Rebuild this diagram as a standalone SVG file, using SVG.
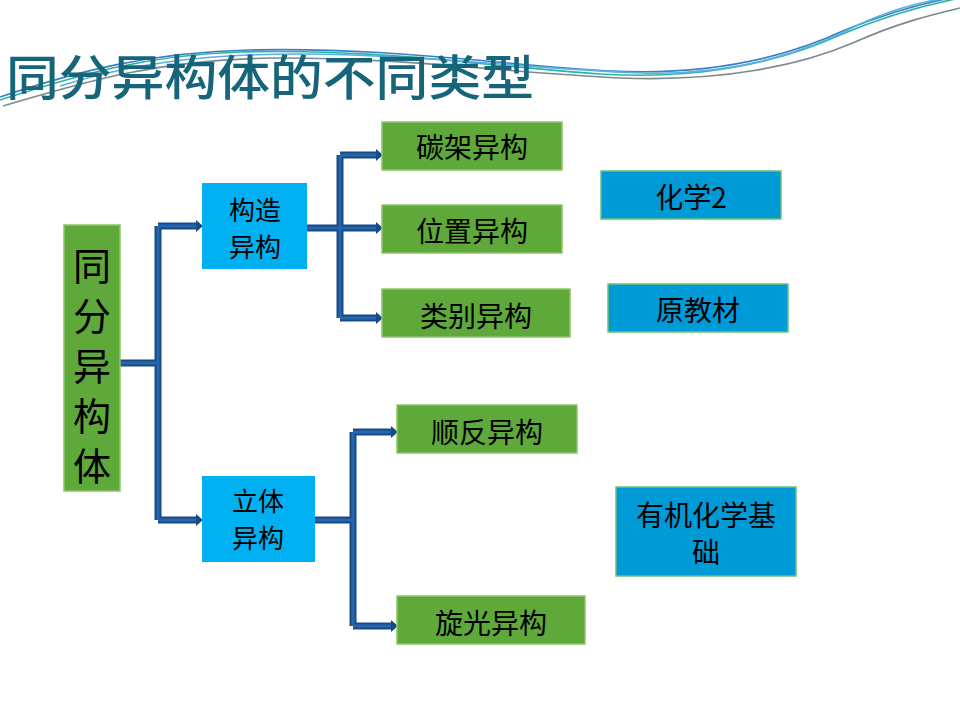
<svg xmlns="http://www.w3.org/2000/svg" width="960" height="720" viewBox="0 0 960 720">
<defs>
<style>
.t{font-family:"Noto Sans CJK SC","Liberation Sans",sans-serif;fill:#000;text-anchor:middle}
.g{fill:#5fa83a;stroke:#8cc66a;stroke-width:1.5}
.b{fill:#00b0f0}
.d{fill:#009ad6;stroke:#6cc07a;stroke-width:1.5}
.c{fill:none;stroke:#184a86;stroke-width:7;stroke-linejoin:miter}
.ci{fill:none;stroke:#2566b0;stroke-width:3;stroke-linejoin:miter}
.w{fill:none;stroke-width:1.6}
</style>
</defs>
<rect width="960" height="720" fill="#fff"/>
<g id="waves">
<path class="w" stroke="#2bb5a0" d="M0,100 C70,78 140,55 240,52 C380,48 480,66 600,74 C700,80 780,62 840,35 C880,18 920,6 960,-2"/>
<path class="w" stroke="#3a7fc8" d="M0,97 C75,72 150,52 250,50 C390,47 490,64 610,71 C710,76 785,58 845,30 C885,14 920,4 950,-2"/>
<path class="w" stroke="#7a8a90" d="M3,106 C90,80 160,60 270,58 C400,57 500,72 620,78 C720,82 800,66 855,42 C900,22 935,14 960,8"/>
<path class="w" stroke="#5ab0e0" d="M60,86 C130,64 200,54 300,54 C430,55 520,68 640,73 C740,76 810,50 860,24 C900,6 930,0 960,-4"/>
</g>
<g id="title">
<text x="6" y="95" font-family="'Noto Sans CJK SC',sans-serif" font-size="48" font-weight="500" fill="#17657a" textLength="528" lengthAdjust="spacingAndGlyphs">同分异构体的不同类型</text>
</g>
<g id="connectors">
<path class="c" d="M120,363 H158 M158,226 V520 M158,226 H198 M158,520 H198"/>
<path class="c" d="M307,228 H340 M340,155 V318 M340,155 H378 M340,228 H378 M340,318 H378"/>
<path class="c" d="M315,520 H353 M353,432 V626 M353,432 H393 M353,626 H393"/>
<path class="ci" d="M120,363 H158 M158,226 V520 M158,226 H198 M158,520 H198"/>
<path class="ci" d="M307,228 H340 M340,155 V318 M340,155 H378 M340,228 H378 M340,318 H378"/>
<path class="ci" d="M315,520 H353 M353,432 V626 M353,432 H393 M353,626 H393"/>
<path d="M196,220 L203,226 L196,232 Z M196,514 L203,520 L196,526 Z M376,149 L383,155 L376,161 Z M376,222 L383,228 L376,234 Z M376,312 L383,318 L376,324 Z M391,426 L398,432 L391,438 Z M391,620 L398,626 L391,632 Z" fill="#184a86"/>
</g>
<g id="n-root">
<rect class="g" x="64" y="225" width="56" height="266"/>
<text class="t" x="92" font-size="38"><tspan x="92" y="280">同</tspan><tspan x="92" y="330">分</tspan><tspan x="92" y="380">异</tspan><tspan x="92" y="430">构</tspan><tspan x="92" y="480">体</tspan></text>
</g>
<g id="n-gouzao">
<rect class="b" x="202" y="183" width="105" height="86"/>
<text class="t" font-size="26"><tspan x="255" y="220">构造</tspan><tspan x="255" y="257">异构</tspan></text>
</g>
<g id="n-liti">
<rect class="b" x="202" y="476" width="113" height="86"/>
<text class="t" font-size="26"><tspan x="258" y="511">立体</tspan><tspan x="258" y="548">异构</tspan></text>
</g>
<g id="n-tanjia"><rect class="g" x="382" y="122" width="180" height="48"/><text class="t" x="472" y="158" font-size="28">碳架异构</text></g>
<g id="n-weizhi"><rect class="g" x="382" y="205" width="180" height="48"/><text class="t" x="472" y="242" font-size="28">位置异构</text></g>
<g id="n-leibie"><rect class="g" x="382" y="289" width="188" height="48"/><text class="t" x="476" y="327" font-size="28">类别异构</text></g>
<g id="n-shunfan"><rect class="g" x="397" y="405" width="180" height="48"/><text class="t" x="487" y="443" font-size="28">顺反异构</text></g>
<g id="n-xuanguang"><rect class="g" x="397" y="596" width="188" height="48"/><text class="t" x="491" y="634" font-size="28">旋光异构</text></g>
<g id="n-huaxue2"><rect class="d" x="601" y="171" width="180" height="48"/><text class="t" x="691" y="208" font-size="28">化学2</text></g>
<g id="n-yuanjiaocai"><rect class="d" x="608" y="284" width="180" height="48"/><text class="t" x="698" y="321" font-size="28">原教材</text></g>
<g id="n-youji"><rect class="d" x="616" y="487" width="180" height="89"/><text class="t" font-size="28"><tspan x="706" y="526">有机化学基</tspan><tspan x="706" y="563">础</tspan></text></g>
</svg>
